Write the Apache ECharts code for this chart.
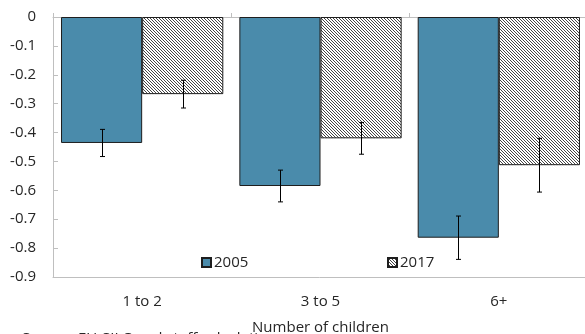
<!DOCTYPE html>
<html>
<head>
<meta charset="utf-8">
<script src="https://cdn.jsdelivr.net/npm/echarts@6/dist/echarts.min.js"></script>
<style>
  html, body { margin: 0; padding: 0; background: #fff; }
  #chart { width: 585px; height: 334px; }
</style>
</head>
<body>
<div id="chart"></div>
<script>
// Effect estimates by number of children, with confidence intervals
const categories = ['1 to 2', '3 to 5', '6+'];
const seriesNames = ['2005', '2017'];
const values2005 = [-0.436, -0.585, -0.764];
const values2017 = [-0.267, -0.420, -0.513];
const errors2005 = [0.047, 0.055, 0.075];
const errors2017 = [0.048, 0.055, 0.093];
const yTicks = [0, -0.1, -0.2, -0.3, -0.4, -0.5, -0.6, -0.7, -0.8, -0.9];
const xAxisTitle = 'Number of children';
const sourceNote = 'Source: EU-SILC and staff calculations.';

const FONT = '"Open Sans", "Noto Sans", sans-serif';
const TEXT = '#262626';
const AXIS = '#bfbfbf';
const BLUE = '#4a8bab';
const EDGE = '#1e1e1e';
const CAT_GAP = 0.09;

// Downward diagonal hatch used for the 2017 bars
function hatchPattern() {
  const n = 3;
  const c = document.createElement('canvas');
  c.width = n; c.height = n;
  const ctx = c.getContext('2d');
  ctx.fillStyle = '#ffffff';
  ctx.fillRect(0, 0, n, n);
  ctx.fillStyle = '#454545';
  for (let y = 0; y < n; y++) {
    for (let x = 0; x < n; x++) {
      if ((x - y + n) % n === 0) ctx.fillRect(x, y, 1, 1);
    }
  }
  return { image: c, repeat: 'repeat' };
}

// Error bars drawn at the centre of each bar within the category band
function errorSeries(values, errors, side) {
  return {
    type: 'custom',
    xAxisIndex: 0,
    z: 5,
    silent: true,
    data: values.map((v, i) => [i, v, errors[i]]),
    renderItem: function (params, api) {
      const idx = api.value(0);
      const v = api.value(1);
      const e = api.value(2);
      const band = api.size([1, 0])[0];
      const off = side * band * (1 - CAT_GAP) / 4;
      const top = api.coord([idx, v + e]);
      const bot = api.coord([idx, v - e]);
      const x = Math.round(top[0] + off) + 0.5;
      const cap = 2.5;
      const style = { stroke: '#000', lineWidth: 1 };
      return {
        type: 'group',
        children: [
          { type: 'line', shape: { x1: x, y1: top[1], x2: x, y2: bot[1] }, style: style },
          { type: 'line', shape: { x1: x - cap, y1: top[1], x2: x + cap, y2: top[1] }, style: style },
          { type: 'line', shape: { x1: x - cap, y1: bot[1], x2: x + cap, y2: bot[1] }, style: style }
        ]
      };
    }
  };
}

const chart = echarts.init(document.getElementById('chart'), null, { renderer: 'canvas' });

chart.setOption({
  animation: false,
  textStyle: { fontFamily: FONT, color: TEXT },
  grid: {
    left: 53, top: 17, width: 535, height: 260,
    containLabel: false, outerBoundsMode: 'none'
  },
  legend: [
    {
      data: [seriesNames[0]], left: 201, top: 255, padding: 0,
      itemWidth: 9, itemHeight: 9, itemGap: 0, icon: 'rect',
      textStyle: { fontFamily: FONT, fontSize: 15, color: TEXT, padding: [0, 0, 0, -2] }
    },
    {
      data: [seriesNames[1]], left: 387, top: 255, padding: 0,
      itemWidth: 9, itemHeight: 9, itemGap: 0, icon: 'rect',
      textStyle: { fontFamily: FONT, fontSize: 15, color: TEXT, padding: [0, 0, 0, -2] }
    }
  ],
  xAxis: [
    {
      type: 'category',
      data: categories,
      position: 'bottom',
      axisLine: { onZero: false, lineStyle: { color: AXIS, width: 1 } },
      axisTick: { show: false },
      axisLabel: { fontFamily: FONT, fontSize: 15, color: TEXT, margin: 17 },
      name: xAxisTitle,
      nameLocation: 'middle',
      nameGap: 43,
      nameTextStyle: { fontFamily: FONT, fontSize: 15, color: TEXT }
    },
    {
      type: 'category',
      data: categories,
      position: 'top',
      axisLine: { onZero: false, lineStyle: { color: AXIS, width: 1 } },
      axisTick: { show: true, length: 4, lineStyle: { color: AXIS } },
      axisLabel: { show: false }
    }
  ],
  yAxis: {
    type: 'value',
    min: -0.9,
    max: 0,
    interval: 0.1,
    axisLine: { show: true, lineStyle: { color: AXIS, width: 1 } },
    axisTick: { show: true, inside: true, length: 5, lineStyle: { color: AXIS } },
    splitLine: { show: false },
    axisLabel: {
      fontFamily: FONT, fontSize: 15, color: TEXT, margin: 17,
      formatter: function (v) {
        const r = Math.round(v * 10) / 10;
        const hit = yTicks.find(t => Math.abs(t - r) < 1e-9);
        return hit === 0 ? '0' : String(hit !== undefined ? hit : r);
      }
    }
  },
  series: [
    {
      name: seriesNames[0],
      type: 'bar',
      xAxisIndex: 0,
      data: values2005,
      barGap: '0%',
      barCategoryGap: (CAT_GAP * 100) + '%',
      itemStyle: { color: BLUE, borderColor: EDGE, borderWidth: 1 }
    },
    {
      name: seriesNames[1],
      type: 'bar',
      xAxisIndex: 0,
      data: values2017,
      barGap: '0%',
      barCategoryGap: (CAT_GAP * 100) + '%',
      itemStyle: { color: hatchPattern(), borderColor: EDGE, borderWidth: 1 }
    },
    errorSeries(values2005, errors2005, -1),
    errorSeries(values2017, errors2017, 1)
  ],
  graphic: [
    {
      type: 'text',
      left: 22,
      top: 331,
      z: 1,
      style: { text: sourceNote, font: '15px ' + FONT, fill: TEXT }
    }
  ]
});
</script>
</body>
</html>
